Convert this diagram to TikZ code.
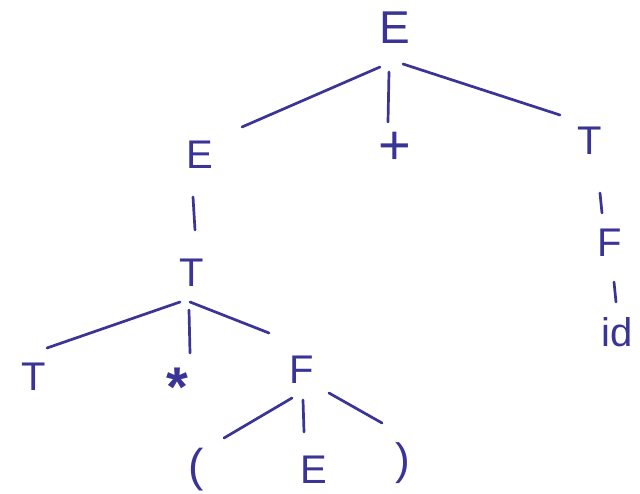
\documentclass[tikz,border=0pt]{standalone}
\usepackage{fontspec}
\setmainfont{Liberation Sans}
\usetikzlibrary{calc}
\definecolor{ink}{RGB}{58,52,150}
\tikzset{
  lbl/.style={inner sep=0pt, text=ink, font=\fontsize{40}{40}\selectfont},
  edge/.style={draw=ink, line width=2.7pt, line cap=round}
}
\begin{document}
\begin{tikzpicture}[x=1pt,y=-1pt]
\fill[white] (0,0) rectangle (640,493);
\useasboundingbox (0,0) rectangle (640,493);
\node[lbl,font=\fontsize{46}{46}\selectfont] (Etop) at (395,28) {E};
\node[lbl] (Eleft) at (200,155) {E};
\node[lbl,font=\fontsize{56}{56}\selectfont] (plus) at (395,148) {+};
\node[lbl] (Tr) at (590,141) {T};
\node[lbl] (Fr) at (610,243) {F};
\node[lbl] (id) at (617,332) {id};
\node[lbl] (Tm) at (192,273) {T};
\node[lbl] (Tb) at (34,377) {T};
\node[lbl,font=\bfseries\fontsize{56}{56}\selectfont] (star) at (177,387) {*};
\node[lbl] (F) at (302,370) {F};
\node[lbl,font=\fontsize{46}{46}\selectfont] (lp) at (196,470) {(};
\node[lbl] (Eb) at (314,470) {E};
\node[lbl,font=\fontsize{44}{44}\selectfont] (rp) at (403,463) {)};
\draw[edge] ($(Etop)+(-15,39)$) -- ($(Eleft)+(42,-28)$);
\draw[edge] ($(Etop)+(-6,44)$) -- ($(plus)+(-7,-26)$);
\draw[edge] ($(Etop)+(8,36)$) -- ($(Tr)+(-30,-26)$);
\draw[edge] ($(Eleft)+(-7,42)$) -- ($(Tm)+(3,-43)$);
\draw[edge] ($(Tr)+(10,52)$) -- ($(Fr)+(-8,-30)$);
\draw[edge] ($(Fr)+(4,39)$) -- ($(id)+(-1,-30)$);
\draw[edge] ($(Tm)+(-12,29)$) -- ($(Tb)+(13,-29)$);
\draw[edge] ($(Tm)+(-3,37)$) -- ($(star)+(13,-34)$);
\draw[edge] ($(Tm)+(-2,29)$) -- ($(F)+(-33,-37)$);
\draw[edge] ($(F)+(-10,28)$) -- ($(lp)+(28,-32)$);
\draw[edge] ($(F)+(1,30)$) -- ($(Eb)+(-10,-38)$);
\draw[edge] ($(F)+(27,23)$) -- ($(rp)+(-21,-40)$);
\end{tikzpicture}
\end{document}
